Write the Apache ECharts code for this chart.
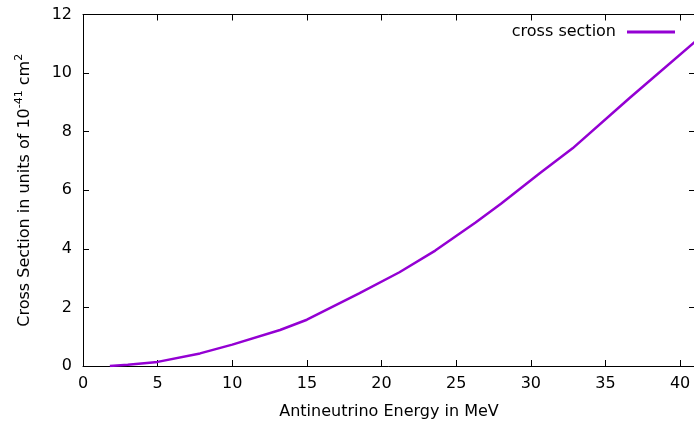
<!DOCTYPE html>
<html>
<head>
<meta charset="utf-8">
<script src="https://cdn.jsdelivr.net/npm/echarts@6/dist/echarts.min.js"></script>
<style>
  html, body { margin: 0; padding: 0; background: #fff; }
  #chart { width: 694px; height: 426px; }
</style>
</head>
<body>
<div id="chart"></div>
<script>
// antineutrino energy (MeV) and cross section (1e-41 cm^2)
var energy = [1.8, 3, 5, 7.84, 10, 13.2, 15, 18.5, 21.2, 23.6, 26.3, 28, 30.6, 32.8, 36.6, 41];
var sigma = [0, 0.04, 0.14, 0.43, 0.73, 1.23, 1.58, 2.48, 3.2, 3.94, 4.9, 5.54, 6.58, 7.43, 9.14, 11.07];
var xTicks = [0, 5, 10, 15, 20, 25, 30, 35, 40];
var yTicks = [0, 2, 4, 6, 8, 10, 12];

var font = 'DejaVu Sans';
var purple = '#9400d3';

var points = [];
for (var i = 0; i < energy.length; i++) points.push([energy[i], sigma[i]]);

var chart = echarts.init(document.getElementById('chart'), null, { renderer: 'canvas' });

// gnuplot style: ticks point into the plot
function tick() { return { show: true, inside: true, length: 6, lineStyle: { color: '#000', width: 1 } }; }
function border() { return { show: true, onZero: false, lineStyle: { color: '#000', width: 1 } }; }

var option = {
  backgroundColor: '#ffffff',
  animation: false,
  grid: { left: 83, right: -1, top: 14.5, bottom: 60, outerBoundsMode: 'none', containLabel: false },
  legend: {
    data: ['cross section'],
    right: 14,
    top: 19,
    icon: 'rect',
    itemWidth: 48,
    itemHeight: 3,
    itemGap: 0,
    align: 'right',
    textStyle: { fontFamily: font, fontSize: 16, color: '#000', padding: [0, 6, 0, 0] }
  },
  xAxis: [{
    type: 'value',
    min: 0, max: 41, interval: 5,
    name: 'Antineutrino Energy in MeV',
    nameLocation: 'middle',
    nameGap: 38,
    nameTextStyle: { fontFamily: font, fontSize: 16, color: '#000' },
    axisLine: border(),
    axisTick: tick(),
    splitLine: { show: false },
    axisLabel: {
      margin: 10, fontFamily: font, fontSize: 16, color: '#000',
      formatter: function (v) { return xTicks.indexOf(v) >= 0 ? String(v) : ''; }
    }
  }, {
    type: 'value', position: 'top',
    min: 0, max: 41, interval: 5,
    axisLine: border(), axisTick: tick(),
    axisLabel: { show: false }, splitLine: { show: false }
  }],
  yAxis: [{
    type: 'value',
    min: 0, max: 12, interval: 2,
    name: 'Cross Section in units of 10{sup|-41} cm{sup|2}',
    nameLocation: 'middle',
    nameGap: 47,
    nameTextStyle: {
      fontFamily: font, fontSize: 16, color: '#000',
      rich: { sup: { fontFamily: font, fontSize: 11, color: '#000', verticalAlign: 'top', lineHeight: 22 } }
    },
    axisLine: border(),
    axisTick: tick(),
    splitLine: { show: false },
    axisLabel: {
      margin: 11, fontFamily: font, fontSize: 16, color: '#000',
      formatter: function (v) { return yTicks.indexOf(v) >= 0 ? String(v) : ''; }
    }
  }, {
    type: 'value', position: 'right',
    min: 0, max: 12, interval: 2,
    axisLine: border(), axisTick: tick(),
    axisLabel: { show: false }, splitLine: { show: false }
  }],
  series: [{
    name: 'cross section',
    type: 'line',
    data: points,
    showSymbol: false,
    smooth: false,
    color: purple,
    lineStyle: { color: purple, width: 2.5 }
  }]
};

chart.setOption(option);
</script>
</body>
</html>
